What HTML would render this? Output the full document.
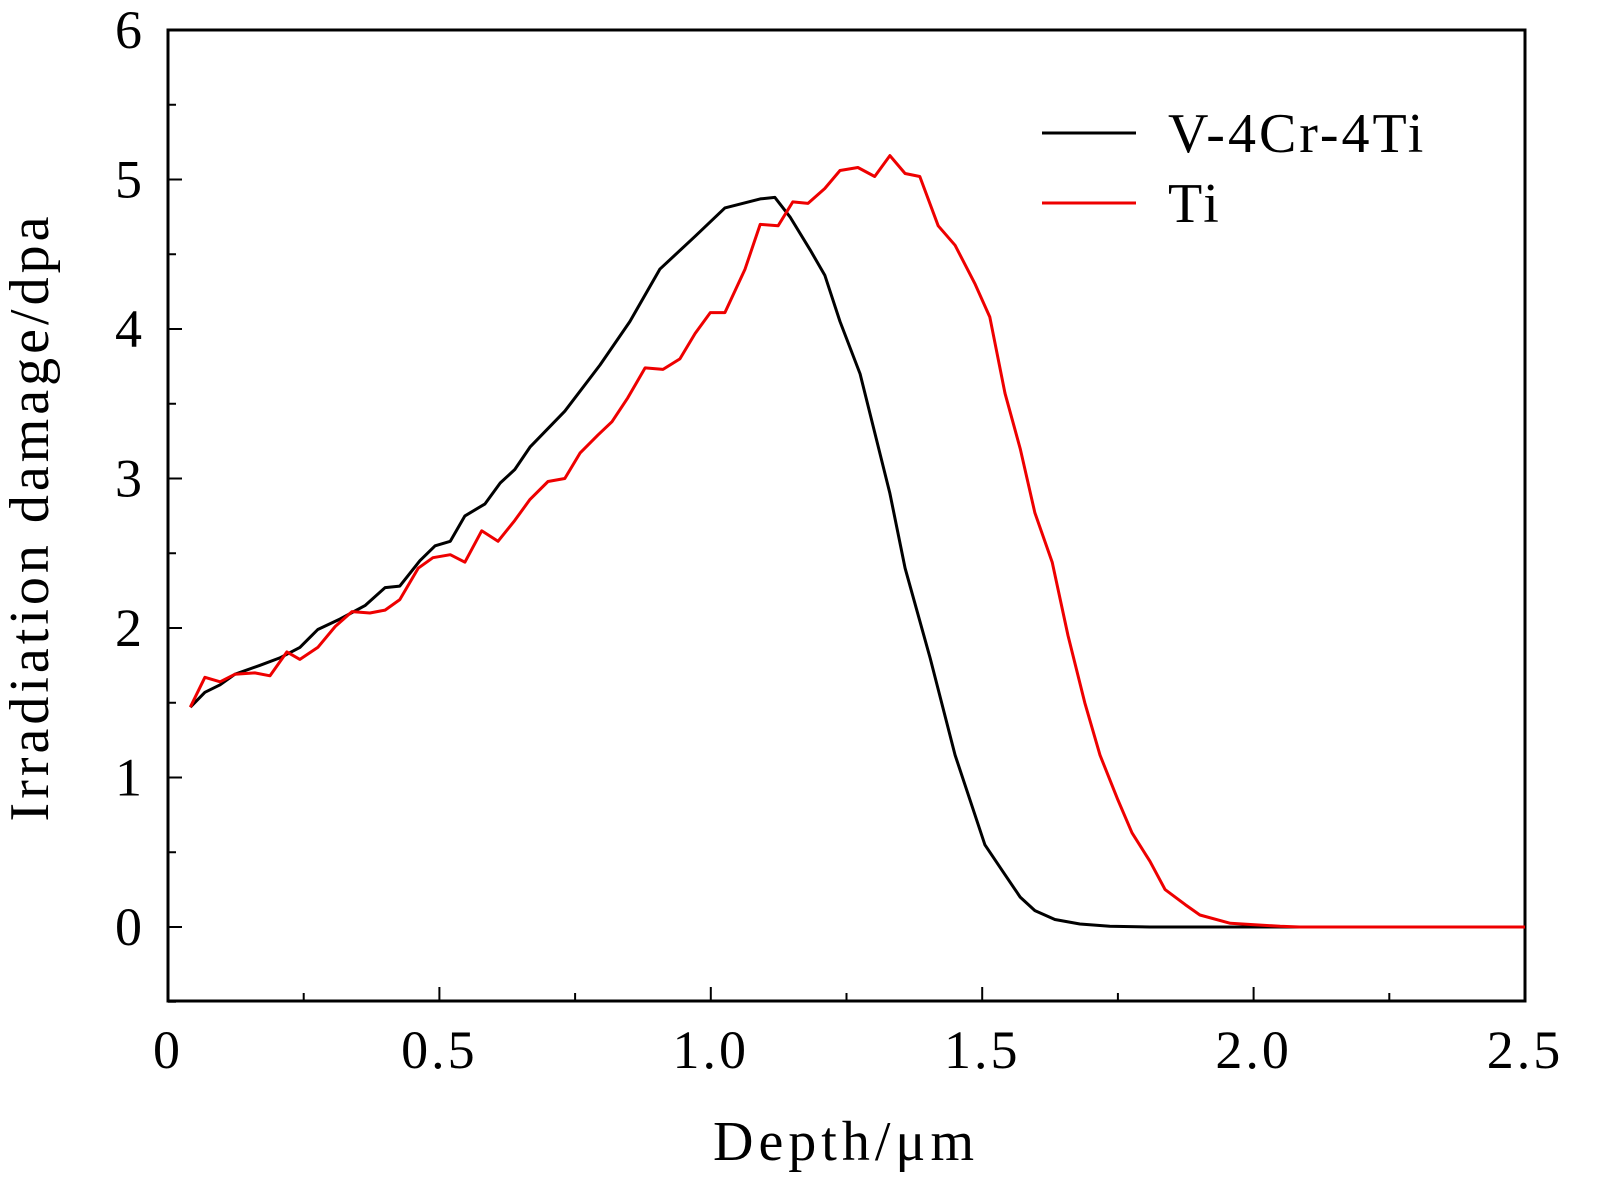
<!DOCTYPE html>
<html><head><meta charset="utf-8"><style>
body{margin:0;background:#fff}
svg{display:block;font-family:"Liberation Serif",serif}
</style></head><body>
<svg id="chart" width="1602" height="1197" viewBox="0 0 1602 1197"></svg>
<script>
const xTicks=[0,0.5,1.0,1.5,2.0,2.5];
const xTickLabels=["0","0.5","1.0","1.5","2.0","2.5"];
const yTicks=[0,1,2,3,4,5,6];
const yTickLabels=["0","1","2","3","4","5","6"];
const vDepth=[0.041,0.068,0.096,0.123,0.169,0.206,0.243,0.276,0.317,0.363,0.400,0.427,0.464,0.492,0.520,0.547,0.584,0.612,0.639,0.667,0.731,0.796,0.851,0.906,0.971,1.026,1.091,1.118,1.146,1.183,1.210,1.238,1.275,1.330,1.358,1.404,1.450,1.505,1.542,1.570,1.597,1.634,1.680,1.735,1.809,2.5];
const vDamage=[1.47,1.57,1.62,1.69,1.75,1.80,1.87,1.99,2.06,2.15,2.27,2.28,2.45,2.55,2.58,2.75,2.83,2.97,3.06,3.21,3.45,3.76,4.05,4.40,4.62,4.81,4.87,4.88,4.75,4.53,4.36,4.05,3.70,2.90,2.40,1.80,1.15,0.55,0.35,0.20,0.11,0.05,0.02,0.005,0,0];
const tiDepth=[0.041,0.068,0.096,0.123,0.160,0.188,0.219,0.243,0.276,0.308,0.339,0.372,0.400,0.427,0.461,0.488,0.520,0.547,0.578,0.608,0.639,0.667,0.700,0.731,0.759,0.792,0.818,0.847,0.879,0.912,0.943,0.971,0.999,1.026,1.063,1.091,1.124,1.151,1.179,1.210,1.238,1.271,1.302,1.330,1.358,1.385,1.419,1.450,1.487,1.514,1.542,1.570,1.597,1.629,1.658,1.689,1.717,1.750,1.776,1.809,1.837,1.874,1.901,1.957,2.049,2.085,2.5];
const tiDamage=[1.47,1.67,1.64,1.69,1.70,1.68,1.84,1.79,1.87,2.01,2.11,2.10,2.12,2.19,2.40,2.47,2.49,2.44,2.65,2.58,2.72,2.86,2.98,3.00,3.17,3.29,3.38,3.54,3.74,3.73,3.80,3.97,4.11,4.11,4.40,4.70,4.69,4.85,4.84,4.94,5.06,5.08,5.02,5.16,5.04,5.02,4.69,4.56,4.30,4.08,3.57,3.20,2.77,2.44,1.95,1.50,1.15,0.85,0.63,0.44,0.25,0.15,0.08,0.025,0.005,0,0];

const L=168,R=1525,T=30,B=1001;
const X=v=>L+(v/2.5)*(R-L);
const Y=v=>927-v*149.5;
const svg=document.getElementById('chart');
const NS='http://www.w3.org/2000/svg';
function mk(tag,attrs,parent){const e=document.createElementNS(NS,tag);for(const k in attrs)e.setAttribute(k,attrs[k]);(parent||svg).appendChild(e);return e;}

const frame=mk('rect',{x:L,y:T,width:R-L,height:B-T,fill:'none',stroke:'#000','stroke-width':3});



xTicks.forEach((v,i)=>{
  const t=mk('line',{x1:X(v),x2:X(v),y1:B,y2:B-14,stroke:'#000','stroke-width':2});
  
  
  if(i<xTicks.length-1){
    const m=mk('line',{x1:X(v+0.25),x2:X(v+0.25),y1:B,y2:B-8,stroke:'#000','stroke-width':2});
    
    
  }
  const lb=mk('text',{x:X(v),y:1068,'font-size':54,'text-anchor':'middle','letter-spacing':3});
  lb.textContent=xTickLabels[i];
  
  
});
yTicks.forEach((v,i)=>{
  const t=mk('line',{x1:L,x2:L+14,y1:Y(v),y2:Y(v),stroke:'#000','stroke-width':2});
  
  
  const m=mk('line',{x1:L,x2:L+8,y1:Y(v-0.5),y2:Y(v-0.5),stroke:'#000','stroke-width':2});
  
  
  const lb=mk('text',{x:142,y:Y(v)+18,'font-size':54,'text-anchor':'end'});
  lb.textContent=yTickLabels[i];
  
  
});

const xt=mk('text',{x:846,y:1160,'font-size':56,'text-anchor':'middle','letter-spacing':5});
xt.textContent='Depth/μm';


const yt=mk('text',{x:0,y:0,'font-size':56,'text-anchor':'middle','letter-spacing':4,transform:'translate(48,517) rotate(-90)'});
yt.textContent='Irradiation damage/dpa';



function line(xs,ys,color,name){
  const d=xs.map((x,i)=>(i?'L':'M')+X(x).toFixed(1)+','+Y(ys[i]).toFixed(1)).join('');
  const p=mk('path',{d:d,fill:'none',stroke:color,'stroke-width':3,'stroke-linejoin':'round'});
  
  
}
line(vDepth,vDamage,'#000','series-v-4cr-4ti');
line(tiDepth,tiDamage,'#e00','series-ti');

[['V-4Cr-4Ti','#000',133],['Ti','#e00',203]].forEach(([n,c,y])=>{
  const g=mk('g',{});
  
  
  mk('line',{x1:1042,x2:1136,y1:y,y2:y,stroke:c,'stroke-width':3},g);
  const t=mk('text',{x:1168,y:y+19,'font-size':56,'letter-spacing':3},g);
  t.textContent=n;
});
</script>
</body></html>
